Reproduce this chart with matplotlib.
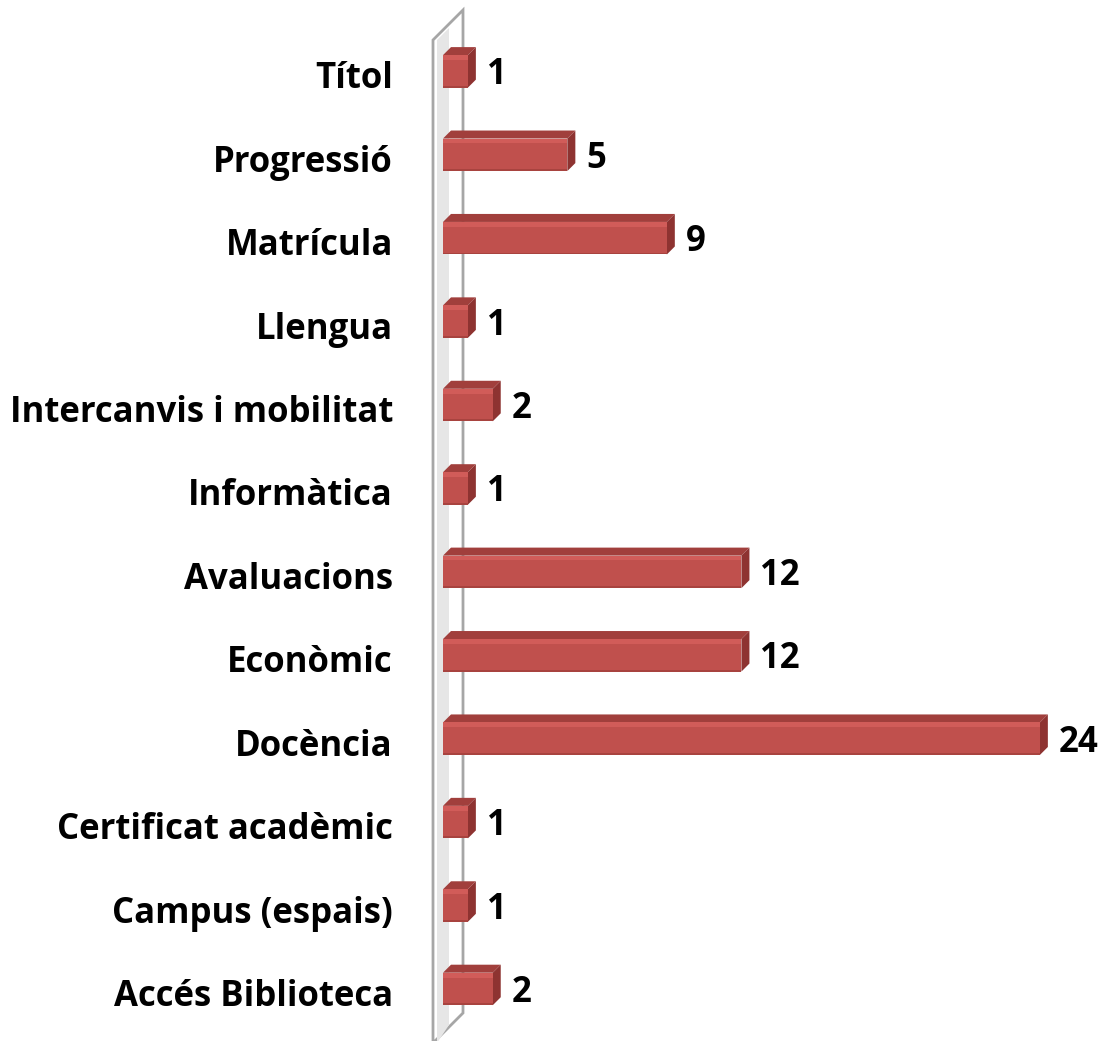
import matplotlib
matplotlib.use("Agg")
import matplotlib.pyplot as plt
from matplotlib.patches import Rectangle, Polygon

categories = ["Títol", "Progressió", "Matrícula", "Llengua", "Intercanvis i mobilitat",
              "Informàtica", "Avaluacions", "Econòmic", "Docència", "Certificat acadèmic",
              "Campus (espais)", "Accés Biblioteca"]
values = [1, 5, 9, 1, 2, 1, 12, 12, 24, 1, 1, 2]

W, H = 1107, 1041
fig = plt.figure(figsize=(W / 100, H / 100), dpi=100)
fig.patch.set_facecolor("white")
ax = fig.add_axes([443 / W, 12 / H, 664 / W, 1001 / H])
xmax = 26.7
ax.set_xlim(0, xmax)
ax.set_ylim(len(categories) - 0.5, -0.5)
ax.axis("off")

ppx = 664 / xmax          # pixels per x unit
ppy = 1001 / len(categories)  # pixels per y unit
dx = 8 / ppx
dy = 8 / ppy
h = 0.39

front = "#C0504D"
topc = "#A13F3C"
side = "#8E3331"
hl = "#D15C59"

# back wall (3D decoration)
wl = -10 / ppx
wr = 20 / ppx
ytop = -0.5 - 18 / ppy
ybot = len(categories) - 0.5 + 14 / ppy
wall = Polygon([(wl, ytop + 30 / ppy), (wr, ytop), (wr, ybot - 30 / ppy), (wl, ybot)],
               closed=True, facecolor="white", edgecolor="#A6A6A6", lw=2, clip_on=False, zorder=1)
ax.add_patch(wall)
shade = Polygon([(wl + 4 / ppx, ytop + 30 / ppy), (wl + 16 / ppx, ytop + 18 / ppy),
                 (wl + 16 / ppx, ybot - 18 / ppy), (wl + 4 / ppx, ybot)],
                closed=True, facecolor="#E6E6E6", edgecolor="none", clip_on=False, zorder=1)
ax.add_patch(shade)

for i, (cat, v) in enumerate(zip(categories, values)):
    y0 = i - h / 2 + 0.02
    y1 = i + h / 2 + 0.02
    ax.add_patch(Polygon([(0, y0), (v, y0), (v + dx, y0 - dy), (dx, y0 - dy)],
                         closed=True, facecolor=topc, edgecolor="none", zorder=3))
    ax.add_patch(Polygon([(v, y0), (v + dx, y0 - dy), (v + dx, y1 - dy), (v, y1)],
                         closed=True, facecolor=side, edgecolor="none", zorder=3))
    ax.barh(i + 0.02, v, height=h, left=0, color=front, edgecolor="none", zorder=4)
    ax.add_patch(Rectangle((0, y0), v, h * 0.15, facecolor=hl, edgecolor="none", zorder=5))
    ax.add_patch(Rectangle((0, y1 - h * 0.06), v, h * 0.06, facecolor="#A8433F",
                           edgecolor="none", zorder=5))
    ax.text(v + dx + 11 / ppx, i + 0.02 + 4 / ppy, str(v), ha="left", va="center",
            fontsize=25, fontweight="bold", family="Open Sans", color="black", zorder=6)
    ax.text(-50 / ppx, i + 0.02 + 8 / ppy, cat, ha="right", va="center",
            fontsize=25, fontweight="bold", family="Open Sans", color="black", zorder=6,
            clip_on=False)

fig.savefig("out.png", dpi=100, facecolor="white")
